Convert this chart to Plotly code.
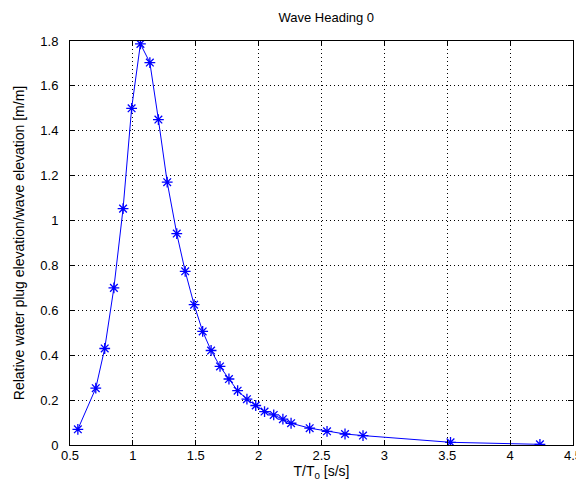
import plotly.graph_objects as go

period_ratio = [0.5625, 0.705, 0.776, 0.849, 0.922, 0.99, 1.06, 1.135, 1.203, 1.273,
                1.349, 1.416, 1.487, 1.555, 1.622, 1.693, 1.764, 1.833, 1.907, 1.977,
                2.047, 2.12, 2.193, 2.258, 2.406, 2.544, 2.687, 2.83, 3.526, 4.237]
rel_elev = [0.07, 0.253, 0.43, 0.70, 1.053, 1.50, 1.787, 1.704, 1.45, 1.171,
            0.942, 0.774, 0.625, 0.506, 0.421, 0.35, 0.294, 0.242, 0.204, 0.176,
            0.149, 0.134, 0.115, 0.097, 0.075, 0.061, 0.049, 0.042, 0.012, 0.003]

x_ticks = [0.5, 1, 1.5, 2, 2.5, 3, 3.5, 4, 4.5]
x_tick_text = ["0.5", "1", "1.5", "2", "2.5", "3", "3.5", "4", "4.5"]
y_ticks = [0, 0.2, 0.4, 0.6, 0.8, 1.0, 1.2, 1.4, 1.6, 1.8]
y_tick_text = ["0", "0.2", "0.4", "0.6", "0.8", "1", "1.2", "1.4", "1.6", "1.8"]

FONT = "Liberation Sans, Arial"

fig = go.Figure()
fig.add_trace(go.Scatter(
    x=period_ratio, y=rel_elev, mode="lines+markers",
    line=dict(color="#0000ff", width=1),
    marker=dict(symbol="asterisk-open", size=9, color="#0000ff",
                line=dict(color="#0000ff", width=1.3)),
    showlegend=False,
))

axis_common = dict(
    showline=True, linecolor="#000000", linewidth=1, mirror="ticks",
    ticks="inside", ticklen=5, tickcolor="#000000",
    showgrid=True, gridcolor="#000000", griddash="1px,3px", gridwidth=1,
    zeroline=False, tickfont=dict(family=FONT, size=13, color="#000000"),
)

fig.update_xaxes(range=[0.5, 4.5], tickvals=x_ticks, ticktext=x_tick_text,
                 ticklabelstandoff=-2,
                 title=dict(text="T/T<sub>0</sub> [s/s]", standoff=0,
                            font=dict(family=FONT, size=14, color="#000000")),
                 **axis_common)
fig.update_yaxes(range=[0, 1.8], tickvals=y_ticks, ticktext=y_tick_text,
                 ticklabelstandoff=8,
                 title=dict(text="Relative water plug elevation/wave elevation [m/m]", standoff=12,
                            font=dict(family=FONT, size=14, color="#000000")),
                 **axis_common)

fig.update_layout(
    width=584, height=482,
    margin=dict(l=62, r=10, t=33, b=45),
    paper_bgcolor="#ffffff", plot_bgcolor="#ffffff",
    title=dict(text="Wave Heading 0", x=0.545, xanchor="center", y=0.98, yanchor="middle",
               font=dict(family=FONT, size=13, color="#000000")),
)

fig.write_html("out.html")
